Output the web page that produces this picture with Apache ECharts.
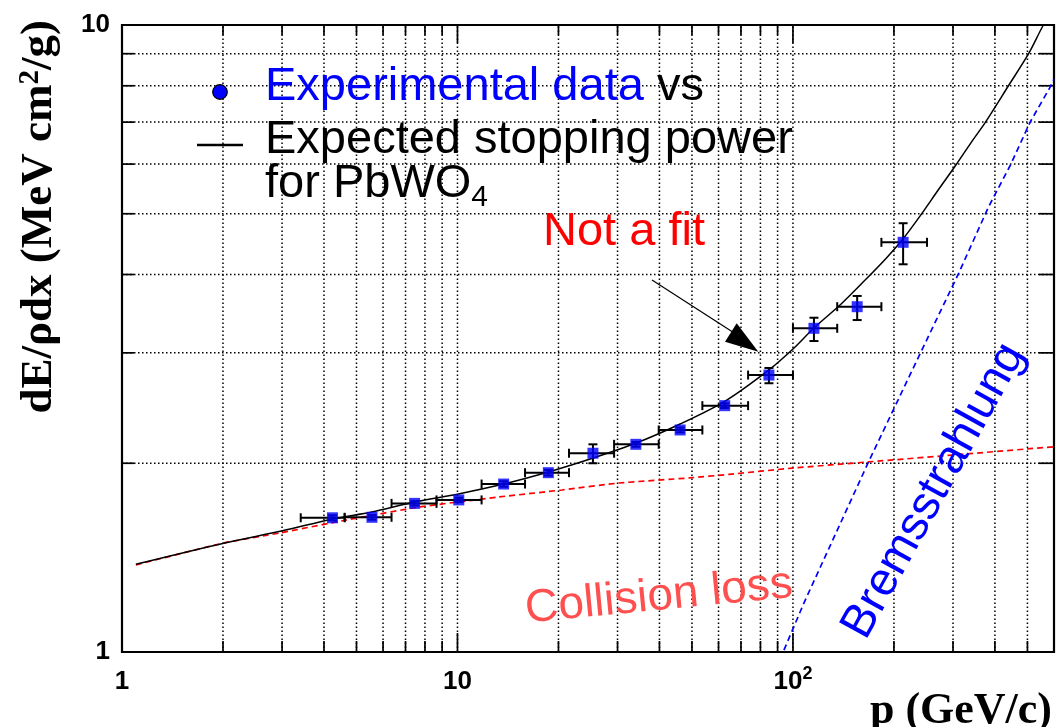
<!DOCTYPE html>
<html>
<head>
<meta charset="utf-8">
<script src="https://cdn.jsdelivr.net/npm/echarts@6/dist/echarts.min.js"></script>
<style>
  html, body { margin: 0; padding: 0; background: #ffffff; }
  #chart { width: 1056px; height: 727px; }
</style>
</head>
<body>
<div id="chart"></div>
<script>
// Axis ranges: momentum p (GeV/c) and dE/rho dx (MeV cm^2/g)
const pRange = [1, 600];
const eRange = [1, 10];

// Log-spaced grid lines / ticks
const xGridValues = [2, 3, 4, 5, 6, 7, 8, 9, 10, 20, 30, 40, 50, 60, 70, 80, 90, 100, 200, 300, 400, 500];
const xDecades = [10, 100];
const yGridValues = [2, 3, 4, 5, 6, 7, 8, 9];

// Tick labels
const xLabelValues = [1, 10, 100];
const xLabelBase = ['1', '10', '10'];
const xLabelSup = ['', '', '2'];
const yLabelValues = [1, 10];
const yLabelText = ['1', '10'];

// Measured stopping power in PbWO4 with momentum bins and uncertainties
const pMom  = [4.24, 5.56, 7.45, 10.09, 13.73, 18.66, 25.34, 34.02, 46.1, 62.6, 84.8, 115.5, 155.4, 213];
const pLow  = [3.41, 4.61, 6.36, 8.66, 11.8, 15.9, 21.5, 29.3, 39.8, 53.7, 73.5, 100, 135.5, 183.5];
const pHigh = [4.61, 6.36, 8.66, 11.8, 15.9, 21.5, 29.3, 39.8, 53.7, 73.5, 100, 135.5, 183.5, 251];
const dEdx     = [1.637, 1.640, 1.726, 1.748, 1.853, 1.932, 2.075, 2.144, 2.26, 2.471, 2.765, 3.283, 3.554, 4.502];
const dEdxLow  = [1.622, 1.626, 1.712, 1.734, 1.835, 1.912, 2.000, 2.125, 2.24, 2.450, 2.683, 3.133, 3.384, 4.153];
const dEdxHigh = [1.652, 1.654, 1.740, 1.762, 1.872, 1.952, 2.144, 2.163, 2.28, 2.492, 2.838, 3.413, 3.697, 4.829];

// Expected total stopping power
const totalP = [1.10, 2.01, 3.01, 4.25, 5.55, 7.45, 10.07, 13.71, 18.66, 25.39, 34.1, 46.1, 62.8, 84.8, 100, 115.5, 140, 165, 190, 213, 240, 270, 306, 340, 375, 439, 504, 558, 600];
const totalE = [1.380, 1.491, 1.561, 1.630, 1.672, 1.735, 1.787, 1.853, 1.937, 2.039, 2.154, 2.31, 2.513, 2.818, 3.043, 3.287, 3.60, 3.93, 4.25, 4.56, 4.97, 5.44, 5.98, 6.5, 7.0, 8.0, 9.0, 10.0, 10.6];

// Collision loss component
const collP = [1.10, 2.01, 2.95, 4.67, 7.70, 13.3, 20.5, 30.3, 49.0, 64.5, 100, 168, 312, 600];
const collE = [1.377, 1.492, 1.548, 1.624, 1.703, 1.767, 1.813, 1.860, 1.895, 1.920, 1.965, 2.010, 2.065, 2.125];

// Bremsstrahlung component
const bremP = [94.0, 107.8, 168, 240, 312, 383, 445, 510, 582, 600];
const bremE = [1.007, 1.197, 2.01, 3.0, 4.02, 5.13, 5.98, 7.01, 7.93, 8.2];

const zip = (a, b) => a.map((v, i) => [v, b[i]]);

function renderXGrid(params, api) {
  const v = api.value(0);
  const b = api.coord([v, eRange[0]]);
  const t = api.coord([v, eRange[1]]);
  const major = xDecades.indexOf(v) >= 0;
  const lb = major ? 19 : 11;
  const lt = major ? 18 : 10;
  const tick = { stroke: '#000', lineWidth: 1.7 };
  return {
    type: 'group',
    children: [
      { type: 'line', shape: { x1: b[0], y1: b[1], x2: t[0], y2: t[1] },
        style: { stroke: '#000', lineWidth: 1.5, lineDash: [1.5, 2.5] } },
      { type: 'line', shape: { x1: b[0], y1: b[1], x2: b[0], y2: b[1] - lb }, style: tick },
      { type: 'line', shape: { x1: t[0], y1: t[1], x2: t[0], y2: t[1] + lt }, style: tick }
    ]
  };
}

function renderYGrid(params, api) {
  const v = api.value(1);
  const l = api.coord([pRange[0], v]);
  const r = api.coord([pRange[1], v]);
  const tick = { stroke: '#000', lineWidth: 1.7 };
  return {
    type: 'group',
    children: [
      { type: 'line', shape: { x1: l[0], y1: l[1], x2: r[0], y2: r[1] },
        style: { stroke: '#000', lineWidth: 1.5, lineDash: [1.5, 2.5] } },
      { type: 'line', shape: { x1: l[0], y1: l[1], x2: l[0] + 12, y2: l[1] }, style: tick },
      { type: 'line', shape: { x1: r[0], y1: r[1], x2: r[0] - 15, y2: r[1] }, style: tick }
    ]
  };
}

function renderErrors(params, api) {
  const x = api.value(0), y = api.value(1);
  const c = api.coord([x, y]);
  const l = api.coord([api.value(2), y]);
  const r = api.coord([api.value(3), y]);
  const lo = api.coord([x, api.value(4)]);
  const hi = api.coord([x, api.value(5)]);
  const cap = 4.5;
  const st = { stroke: '#000', lineWidth: 2 };
  return {
    type: 'group',
    children: [
      { type: 'line', shape: { x1: l[0], y1: c[1], x2: r[0], y2: c[1] }, style: st },
      { type: 'line', shape: { x1: l[0], y1: c[1] - cap, x2: l[0], y2: c[1] + cap }, style: st },
      { type: 'line', shape: { x1: r[0], y1: c[1] - cap, x2: r[0], y2: c[1] + cap }, style: st },
      { type: 'line', shape: { x1: c[0], y1: lo[1], x2: c[0], y2: hi[1] }, style: st },
      { type: 'line', shape: { x1: c[0] - cap, y1: lo[1], x2: c[0] + cap, y2: lo[1] }, style: st },
      { type: 'line', shape: { x1: c[0] - cap, y1: hi[1], x2: c[0] + cap, y2: hi[1] }, style: st }
    ]
  };
}

function isDecade(v) {
  const e = Math.log10(v);
  return Math.abs(e - Math.round(e)) < 1e-6;
}

function xLabel(v) {
  if (!isDecade(v)) return '';
  const i = xLabelValues.findIndex(d => Math.abs(d - v) / d < 1e-6);
  if (i < 0) return '';
  return '{n|' + xLabelBase[i] + '}' + (xLabelSup[i] ? '{s|' + xLabelSup[i] + '}' : '');
}

function yLabel(v) {
  const i = yLabelValues.findIndex(d => Math.abs(d - v) / d < 1e-6);
  return i < 0 ? '' : yLabelText[i];
}

const sans = '"Liberation Sans", Arial, Helvetica, sans-serif';
const serif = '"Liberation Serif", "Times New Roman", serif';

const chart = echarts.init(document.getElementById('chart'), null, { renderer: 'canvas' });

chart.setOption({
  animation: false,
  backgroundColor: '#ffffff',
  grid: {
    left: 122, top: 25, width: 932, height: 627,
    show: true, borderColor: '#000', borderWidth: 2.2, backgroundColor: 'transparent'
  },
  xAxis: {
    type: 'log', logBase: 10, min: pRange[0], max: pRange[1],
    axisLine: { show: false }, axisTick: { show: false }, splitLine: { show: false },
    axisLabel: {
      formatter: xLabel, margin: 13, showMaxLabel: false,
      rich: {
        n: { fontFamily: sans, fontWeight: 'bold', fontSize: 26, color: '#000', lineHeight: 26, padding: [8, 0, 0, 0] },
        s: { fontFamily: sans, fontWeight: 'bold', fontSize: 18, color: '#000', lineHeight: 18, verticalAlign: 'top' }
      }
    }
  },
  yAxis: {
    type: 'log', logBase: 10, min: eRange[0], max: eRange[1],
    axisLine: { show: false }, axisTick: { show: false }, splitLine: { show: false },
    axisLabel: {
      formatter: yLabel, margin: 12,
      fontFamily: sans, fontWeight: 'bold', fontSize: 26, color: '#000'
    }
  },
  series: [
    {
      type: 'custom', name: 'xgrid', silent: true, z: 1,
      renderItem: renderXGrid,
      encode: { x: 0, y: 1 },
      data: xGridValues.map(v => [v, eRange[0]])
    },
    {
      type: 'custom', name: 'ygrid', silent: true, z: 1,
      renderItem: renderYGrid,
      encode: { x: 0, y: 1 },
      data: yGridValues.map(v => [pRange[0], v])
    },
    {
      type: 'line', name: 'Collision loss', z: 3,
      data: zip(collP, collE), showSymbol: false, smooth: 0.2,
      lineStyle: { color: '#ff0000', width: 1.7, type: [6, 4] }
    },
    {
      type: 'line', name: 'Bremsstrahlung', z: 3,
      data: zip(bremP, bremE), showSymbol: false,
      lineStyle: { color: '#0000ff', width: 1.7, type: [6, 4] }
    },
    {
      type: 'line', name: 'Expected stopping power', z: 4,
      data: zip(totalP, totalE), showSymbol: false, smooth: 0.3,
      lineStyle: { color: '#000000', width: 1.5 }
    },
    {
      type: 'custom', name: 'errors', silent: true, z: 5,
      renderItem: renderErrors,
      encode: { x: 0, y: 1 },
      data: pMom.map((p, i) => [p, dEdx[i], pLow[i], pHigh[i], dEdxLow[i], dEdxHigh[i]])
    },
    {
      type: 'scatter', name: 'Experimental data', z: 6,
      symbol: 'rect', symbolSize: 11,
      itemStyle: { color: '#0000ff' },
      data: zip(pMom, dEdx)
    }
  ],
  graphic: [
    // legend
    { type: 'circle', z: 10, shape: { cx: 220, cy: 92, r: 7.3 },
      style: { fill: '#0000ff', stroke: '#000', lineWidth: 1.2 } },
    { type: 'line', z: 10, shape: { x1: 197, y1: 145, x2: 243, y2: 145 },
      style: { stroke: '#000', lineWidth: 2.5 } },
    { type: 'text', z: 10, x: 265, y: 64,
      style: {
        text: '{b|Experimental data}{k| vs}',
        font: '47px ' + sans, fill: '#000',
        align: 'left', textAlign: 'left', verticalAlign: 'top', textVerticalAlign: 'top',
        rich: {
          b: { fill: '#0000ff', fontSize: 47, fontFamily: sans, lineHeight: 47 },
          k: { fill: '#000000', fontSize: 47, fontFamily: sans, lineHeight: 47 }
        }
      } },
    { type: 'text', z: 10, x: 265, y: 117,
      style: {
        text: 'Expected stopping power',
        font: '47px ' + sans, fill: '#000', lineHeight: 47,
        align: 'left', textAlign: 'left', verticalAlign: 'top', textVerticalAlign: 'top'
      } },
    { type: 'text', z: 10, x: 265, y: 166,
      style: {
        text: '{t|for PbWO}{u|4}',
        font: '47px ' + sans, fill: '#000',
        align: 'left', textAlign: 'left', verticalAlign: 'top', textVerticalAlign: 'top',
        rich: {
          t: { fill: '#000', fontSize: 47, fontFamily: sans, lineHeight: 47, padding: [0, 0, 10, 0] },
          u: { fill: '#000', fontSize: 30, fontFamily: sans, lineHeight: 30, verticalAlign: 'bottom' }
        }
      } },
    // annotations
    { type: 'text', z: 10, x: 543, y: 232,
      style: {
        text: 'Not a fit', font: '47px ' + sans, fill: '#ff0000',
        align: 'left', textAlign: 'left', verticalAlign: 'middle', textVerticalAlign: 'middle'
      } },
    { type: 'line', z: 10, shape: { x1: 652, y1: 280, x2: 742, y2: 338 },
      style: { stroke: '#000', lineWidth: 1.2 } },
    { type: 'polygon', z: 10, shape: { points: [[758.3, 351.7], [725, 341.7], [736.7, 323.3]] },
      style: { fill: '#000' } },
    { type: 'text', z: 10, x: 659, y: 597, rotation: 5.5 * Math.PI / 180,
      style: {
        text: 'Collision loss', font: '46px ' + sans, fill: '#ff5050',
        align: 'center', textAlign: 'center', verticalAlign: 'middle', textVerticalAlign: 'middle'
      } },
    { type: 'text', z: 10, x: 934, y: 491, rotation: 61 * Math.PI / 180,
      style: {
        text: 'Bremsstrahlung', font: '47px ' + sans, fill: '#0000ff',
        align: 'center', textAlign: 'center', verticalAlign: 'middle', textVerticalAlign: 'middle'
      } },
    // axis titles
    { type: 'text', z: 10, x: 1052, y: 712,
      style: {
        text: 'p (GeV/c)', font: 'bold 44px ' + serif, fill: '#000',
        align: 'right', textAlign: 'right', verticalAlign: 'middle', textVerticalAlign: 'middle'
      } },
    { type: 'text', z: 10, x: 39, y: 20, rotation: Math.PI / 2,
      style: {
        text: '{a|dE/ρdx (MeV cm}{s|2}{a|/g)}',
        font: 'bold 45px ' + serif, fill: '#000',
        align: 'right', textAlign: 'right', verticalAlign: 'middle', textVerticalAlign: 'middle',
        rich: {
          a: { fill: '#000', fontSize: 45, fontWeight: 'bold', fontFamily: serif, lineHeight: 45 },
          s: { fill: '#000', fontSize: 29, fontWeight: 'bold', fontFamily: serif, lineHeight: 29, verticalAlign: 'top' }
        }
      } }
  ]
});
</script>
</body>
</html>
